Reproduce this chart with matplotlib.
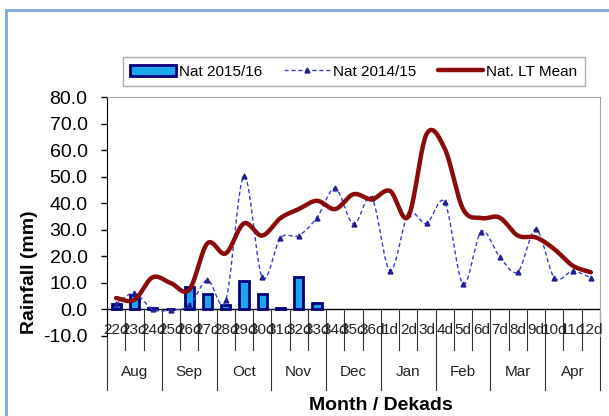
import numpy as np
import matplotlib
matplotlib.use('Agg')
from matplotlib import pyplot as plt
from matplotlib.patches import Rectangle

plt.rcParams['font.family'] = ['Liberation Sans', 'DejaVu Sans']

# dekads, Aug (22d) to Apr (12d)
dekads = ['22d', '23d', '24d', '25d', '26d', '27d', '28d', '29d', '30d',
          '31d', '32d', '33d', '34d', '35d', '36d', '1d', '2d', '3d',
          '4d', '5d', '6d', '7d', '8d', '9d', '10d', '11d', '12d']
months = ['Aug', 'Sep', 'Oct', 'Nov', 'Dec', 'Jan', 'Feb', 'Mar', 'Apr']

nat_2015 = [2.1, 5.5, 0.6, 0.0, 8.6, 5.9, 1.5, 10.6, 5.9, 0.5, 12.4, 2.4,
            np.nan, np.nan, np.nan, np.nan, np.nan, np.nan, np.nan, np.nan,
            np.nan, np.nan, np.nan, np.nan, np.nan, np.nan, np.nan]
nat_2014 = [2.0, 6.1, 0.0, -0.2, 1.5, 11.0, 3.4, 50.2, 12.1, 26.9, 27.8, 34.6,
            45.6, 32.1, 42.1, 14.6, 35.9, 32.4, 40.3, 9.6, 29.3, 19.9, 14.2,
            30.2, 11.9, 14.4, 11.9]
lt_mean = [4.3, 3.6, 12.1, 9.9, 7.4, 24.9, 21.1, 32.4, 27.8, 34.4, 37.8, 40.9,
           37.8, 43.4, 41.5, 44.6, 35.0, 66.0, 60.5, 37.8, 34.4, 34.6, 27.8,
           27.1, 22.7, 16.5, 14.0]


def smooth(x, y, n=25):
    # bezier smoothing through the points, like a smoothed excel line
    pts = np.column_stack([x, y]).astype(float)
    p = np.vstack([pts[0], pts, pts[-1]])
    t = np.linspace(0, 1, n)[:, None]
    out = []
    for i in range(1, len(p) - 2):
        p0, p1, p2, p3 = p[i - 1], p[i], p[i + 1], p[i + 2]
        c1 = p1 + (p2 - p0) / 6
        c2 = p2 - (p3 - p1) / 6
        out.append((1 - t) ** 3 * p1 + 3 * (1 - t) ** 2 * t * c1
                   + 3 * (1 - t) * t ** 2 * c2 + t ** 3 * p2)
    out = np.vstack(out)
    return out[:, 0], out[:, 1]


x = np.arange(len(dekads))

fig = plt.figure(figsize=(6.09, 4.16), dpi=100)
ax = fig.add_axes([107 / 609, 80 / 416, 493 / 609, 239 / 416])

bars = ax.bar(x, nat_2015, width=0.5, color='#1AA7EC', edgecolor='#00007A',
              linewidth=2, zorder=2)

sx, sy = smooth(x, nat_2014)
ax.plot(sx, sy, color='#3A3ACF', lw=1, ls=(0, (3, 2)), zorder=3)
ax.plot(x, nat_2014, ls='none', marker='^', ms=3.5, color='#1F1F8F', zorder=3)
h14, = ax.plot([], [], color='#3A3ACF', lw=1, ls=(0, (3, 2)), marker='^',
               ms=3.5, mfc='#1F1F8F', mec='#1F1F8F')

sx, sy = smooth(x, lt_mean)
hlt, = ax.plot(sx, sy, color='#8B0A0A', lw=3.2, zorder=4,
               solid_capstyle='round')

ax.set_xlim(-0.5, len(dekads) - 0.5)
ax.set_ylim(-10, 80)
ax.set_yticks(np.arange(-10, 81, 10))
ax.set_yticklabels(['%.1f' % v for v in np.arange(-10, 81, 10)], fontsize=14)
ax.tick_params(axis='y', direction='out', length=4, width=1, pad=10)
ax.set_xticks([])

ax.spines['bottom'].set_visible(False)
ax.spines['top'].set_color('#A6A6A6')
ax.spines['right'].set_color('#A6A6A6')
ax.spines['left'].set_color('black')
ax.axhline(0, color='black', lw=1, zorder=1)

# two-level category axis
for i, d in enumerate(dekads):
    ax.text(i, -7.9, d, ha='center', va='center', fontsize=11, color='#222222',
            clip_on=False)
    if i % 3 != 0:
        ax.plot([i - 0.5, i - 0.5], [0, -15.4], color='#333333', lw=0.8,
                clip_on=False)
for m in range(len(months) + 1):
    xb = m * 3 - 0.5
    ax.plot([xb, xb], [0, -30.5], color='#333333', lw=0.8, clip_on=False)
for m, name in enumerate(months):
    ax.text(m * 3 + 1, -23.7, name, ha='center', va='center', fontsize=11,
            color='#222222', clip_on=False)

fig.text(30 / 609, 1 - 272 / 416, 'Rainfall (mm)', rotation=90, ha='center',
         va='center', fontsize=14, fontweight='bold')
fig.text(381 / 609, 1 - 406 / 416, 'Month / Dekads', ha='center', va='center',
         fontsize=14, fontweight='bold')

leg = fig.legend([bars, h14, hlt], ['Nat 2015/16', 'Nat 2014/15', 'Nat. LT Mean'],
                 loc='center', bbox_to_anchor=(354 / 609, 1 - 71.5 / 416),
                 ncol=3, fontsize=11, frameon=True, fancybox=False,
                 edgecolor='#999999', handlelength=3, handletextpad=0.2,
                 columnspacing=1.4, borderpad=0.5)
leg.get_frame().set_linewidth(1)

fig.patches.append(Rectangle((6 / 609, -0.1), 1.2, 1 - 10 / 416 + 0.1,
                             transform=fig.transFigure, fill=False,
                             edgecolor='#7EA6E0', lw=2))

fig.savefig('out.png', dpi=100)
